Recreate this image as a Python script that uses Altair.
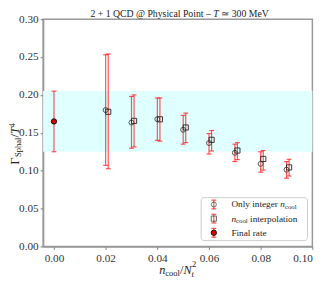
import altair as alt
import pandas as pd

SERIF = "Liberation Serif"

# ---------------- data ----------------
int_x = [0.020, 0.030, 0.040, 0.050, 0.060, 0.070, 0.080, 0.090]
int_y = [0.1800, 0.1635, 0.1680, 0.1540, 0.1365, 0.1236, 0.1090, 0.1013]
int_lo = [0.1070, 0.1296, 0.1400, 0.1350, 0.1220, 0.1120, 0.0980, 0.0900]
int_hi = [0.2530, 0.1980, 0.1960, 0.1730, 0.1490, 0.1350, 0.1250, 0.1120]

itp_x = [0.021, 0.031, 0.041, 0.051, 0.061, 0.071, 0.081, 0.091]
itp_y = [0.1777, 0.1657, 0.1678, 0.1570, 0.1407, 0.1266, 0.1155, 0.1043]
itp_lo = [0.1026, 0.1313, 0.1390, 0.1370, 0.1260, 0.1146, 0.1008, 0.0930]
itp_hi = [0.2540, 0.2000, 0.1960, 0.1760, 0.1530, 0.1370, 0.1266, 0.1150]

fin_x = [0.0]
fin_y = [0.165]
fin_lo = [0.125]
fin_hi = [0.205]

x_ticks = [0.00, 0.02, 0.04, 0.06, 0.08, 0.10]
y_ticks = [0.00, 0.05, 0.10, 0.15, 0.20, 0.25, 0.30]

# ---------------- layout ----------------
W, H = 276, 233
XMIN, XMAX = -0.0042, 0.1
RED = "#ff1a1a"

df_int = pd.DataFrame(dict(x=int_x, y=int_y, lo=int_lo, hi=int_hi))
df_itp = pd.DataFrame(dict(x=itp_x, y=itp_y, lo=itp_lo, hi=itp_hi))
df_fin = pd.DataFrame(dict(x=fin_x, y=fin_y, lo=fin_lo, hi=fin_hi))
dummy = pd.DataFrame({"a": [0]})

xs = alt.Scale(domain=[XMIN, XMAX], nice=False, zero=False)
ys = alt.Scale(domain=[0, 0.30], nice=False)
xaxis = alt.Axis(values=x_ticks, format=".2f", title=None, grid=False, labelPadding=3)
yaxis = alt.Axis(values=y_ticks, format=".2f", title=None, grid=False, labelPadding=2)


def X(f):
    return alt.X(f, type="quantitative", scale=xs, axis=xaxis)


def Y(f):
    return alt.Y(f, type="quantitative", scale=ys, axis=yaxis)


band = alt.Chart(df_fin).mark_rect(color="#e0ffff").encode(
    x=alt.value(0), x2=alt.value(W), y=Y("lo"), y2="hi"
)


def errbars(df):
    r = alt.Chart(df).mark_rule(color=RED, strokeWidth=1.2, opacity=0.75).encode(
        x=X("x"), y=Y("lo"), y2="hi"
    )
    c1 = alt.Chart(df).mark_rule(color=RED, strokeWidth=1.2, opacity=0.75,
                                 xOffset=-2.5, x2Offset=2.5).encode(
        x=X("x"), x2="x", y=Y("lo"))
    c2 = alt.Chart(df).mark_rule(color=RED, strokeWidth=1.2, opacity=0.75,
                                 xOffset=-2.5, x2Offset=2.5).encode(
        x=X("x"), x2="x", y=Y("hi"))
    return [r, c1, c2]


pts_int = alt.Chart(df_int).mark_point(shape="circle", size=26, filled=False,
                                       stroke="#333", strokeWidth=1, opacity=0.85).encode(
    x=X("x"), y=Y("y"))
pts_itp = alt.Chart(df_itp).mark_point(shape="square", size=28, filled=False,
                                       stroke="#222", strokeWidth=1, opacity=0.9).encode(
    x=X("x"), y=Y("y"))
pts_fin = alt.Chart(df_fin).mark_point(shape="circle", size=30, filled=True,
                                       fill="#e00000", stroke="#111", strokeWidth=1,
                                       opacity=1).encode(x=X("x"), y=Y("y"))


def txt(s, x, y, size, style="normal", angle=0, align="left", baseline="middle",
        color="#222"):
    return alt.Chart(dummy).mark_text(text=s, fontSize=size, font=SERIF,
                                      fontStyle=style, angle=angle, align=align,
                                      baseline=baseline, color=color).encode(
        x=alt.value(x), y=alt.value(y))


# ---------------- title ----------------
TS = 10
tx0 = 48.5
tyb = -1.8
title = [
    txt("2 + 1 QCD @ Physical Point \u2013", tx0, tyb, TS, baseline="alphabetic"),
    txt("T", tx0 + 12.6 * TS, tyb, TS, style="italic", baseline="alphabetic"),
    txt("\u2243 300 MeV", tx0 + (12.6 + 0.556 + 0.25) * TS, tyb, TS, baseline="alphabetic"),
]

# ---------------- x label ----------------
LS, SS = 12.5, 8.75
lx0, ly = 119, 257
xlab = [
    txt("n", lx0, ly, LS, style="italic"),
    txt("cool", lx0 + 0.5 * LS, ly + 3, SS),
    txt("/", lx0 + 0.5 * LS + 1.722 * SS, ly, LS),
    txt("N", lx0 + 0.5 * LS + 1.722 * SS + 0.278 * LS, ly, LS, style="italic"),
    txt("t", lx0 + 0.5 * LS + 1.722 * SS + 0.945 * LS, ly + 4.5, SS, style="italic"),
    txt("2", lx0 + 0.5 * LS + 1.722 * SS + 0.945 * LS + 0.5, ly - 5.5, SS),
]

# ---------------- y label (rotated) ----------------
yx, yy0 = -29, 149
ylab = [
    txt("\u0393", yx, yy0, LS, angle=270),
    txt("Sphal", yx + 3.5, yy0 - 0.62 * LS, SS, angle=270),
    txt("/", yx, yy0 - 0.62 * LS - 2.278 * SS, LS, angle=270),
    txt("T", yx, yy0 - 0.62 * LS - 2.278 * SS - 0.278 * LS, LS, style="italic", angle=270),
    txt("4", yx - 3, yy0 - 0.62 * LS - 2.278 * SS - 0.85 * LS, SS, angle=270),
]

# ---------------- legend ----------------
FS, FSS = 9.5, 7.0
legend = [alt.Chart(dummy).mark_rect(fill="white", fillOpacity=0.85, stroke="#cccccc",
                                     strokeWidth=1, cornerRadius=3).encode(
    x=alt.value(162), x2=alt.value(271), y=alt.value(183), y2=alt.value(227))]
mx, tx = 175, 193
rows = [190, 204.5, 219]
for ry in rows:
    legend.append(alt.Chart(dummy).mark_rule(color=RED, strokeWidth=1.2, opacity=0.75).encode(
        x=alt.value(mx), y=alt.value(ry - 4.5), y2=alt.value(ry + 4.5)))
    for cy in (ry - 4.5, ry + 4.5):
        legend.append(alt.Chart(dummy).mark_rule(color=RED, strokeWidth=1.2, opacity=0.75).encode(
            x=alt.value(mx - 2.5), x2=alt.value(mx + 2.5), y=alt.value(cy)))
legend.append(alt.Chart(dummy).mark_point(shape="circle", size=26, filled=False, stroke="#333",
                                          strokeWidth=1).encode(x=alt.value(mx), y=alt.value(rows[0])))
legend.append(alt.Chart(dummy).mark_point(shape="square", size=28, filled=False, stroke="#222",
                                          strokeWidth=1).encode(x=alt.value(mx), y=alt.value(rows[1])))
legend.append(alt.Chart(dummy).mark_point(shape="circle", size=30, filled=True, fill="#e00000",
                                          stroke="#111", strokeWidth=1, opacity=1).encode(
    x=alt.value(mx), y=alt.value(rows[2])))
w1 = 5.277 * FS
legend += [
    txt("Only integer", tx, rows[0], FS),
    txt("n", tx + w1, rows[0], FS, style="italic"),
    txt("cool", tx + w1 + 0.5 * FS, rows[0] + 2.5, FSS),
    txt("n", tx, rows[1], FS, style="italic"),
    txt("cool", tx + 0.5 * FS, rows[1] + 2.5, FSS),
    txt("interpolation", tx + 0.75 * FS + 1.722 * FSS, rows[1], FS),
    txt("Final rate", tx, rows[2], FS),
]

layers = [band] + errbars(df_int) + errbars(df_itp) + errbars(df_fin) + \
    [pts_int, pts_itp, pts_fin] + legend + title + xlab + ylab

chart = alt.layer(*layers).properties(
    width=W, height=H,
    padding={"left": 36, "top": 8, "right": 15, "bottom": 32},
    autosize=alt.AutoSizeParams(type="none"),
).configure_view(stroke="#999999", strokeWidth=1.5).configure_axis(
    domainColor="#999999", domainWidth=1.5, tickColor="#777777", tickSize=3,
    labelFont=SERIF, labelFontSize=11.5, labelColor="#333333",
)

chart.save("out.html", embed_options={"renderer": "svg", "actions": False})
